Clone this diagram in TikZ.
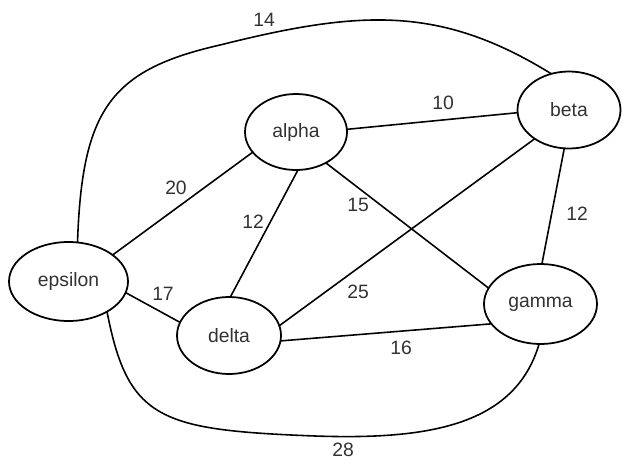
\documentclass[tikz,border=0pt]{standalone}
\usepackage{fontspec}
\setmainfont{Liberation Sans}
\usetikzlibrary{shapes.geometric}
\definecolor{labelgray}{RGB}{50,50,50}
\tikzset{
  vertex/.style={ellipse, draw=black, line width=1pt, inner sep=0pt, outer sep=0pt,
                 font=\fontsize{11}{13}\selectfont, text=labelgray},
  link/.style={line width=0.9pt, black},
  wt/.style={font=\fontsize{11}{13}\selectfont, text=labelgray, inner sep=0pt}
}

\begin{document}
\begin{tikzpicture}[x=0.2mm, y=-0.2mm]
\useasboundingbox (0,0) rectangle (630,471);
% vertices
\node[vertex, minimum width=2.04cm, minimum height=1.52cm] (alpha) at (296,132) {alpha};
\node[vertex, minimum width=2.06cm, minimum height=1.54cm] (beta) at (569,110) {beta};
\node[vertex, minimum width=2.38cm, minimum height=1.58cm] (epsilon) at (68.5,281.5) {epsilon};
\node[vertex, minimum width=2.08cm, minimum height=1.54cm] (delta) at (229,335.5) {delta};
\node[vertex, minimum width=2.26cm, minimum height=1.60cm] (gamma) at (540.5,304) {gamma};
% straight edges
\draw[link] (alpha.3) -- (beta.183);
\draw[link] (alpha.205) -- (epsilon.31);
\draw[link] (alpha.273) -- (delta.88);
\draw[link] (alpha.314) -- (gamma.163);
\draw[link] (beta.220) -- (delta.11);
\draw[link] (beta.263) -- (gamma.88);
\draw[link] (epsilon.349) -- (delta.165);
\draw[link] (delta.354) -- (gamma.202);
% curved edges
\draw[link] (epsilon.77) .. controls (82,110) and (110,70) .. (220,45)
  .. controls (360,10) and (440,5) .. (beta.116);
\draw[link] (epsilon.322) .. controls (128,420) and (160,430) .. (315,436)
  .. controls (430,440) and (515,425) .. (gamma.268);
% weights
\node[wt] (w14) at (264,20) {14};
\node[wt] (w10) at (443,103) {10};
\node[wt] (w20) at (176,188) {20};
\node[wt] (w12a) at (253,222) {12};
\node[wt] (w15) at (358,205) {15};
\node[wt] (w12b) at (577,214) {12};
\node[wt] (w17) at (163,294) {17};
\node[wt] (w25) at (358,292) {25};
\node[wt] (w16) at (401,348) {16};
\node[wt] (w28) at (343,450) {28};
\end{tikzpicture}
\end{document}
